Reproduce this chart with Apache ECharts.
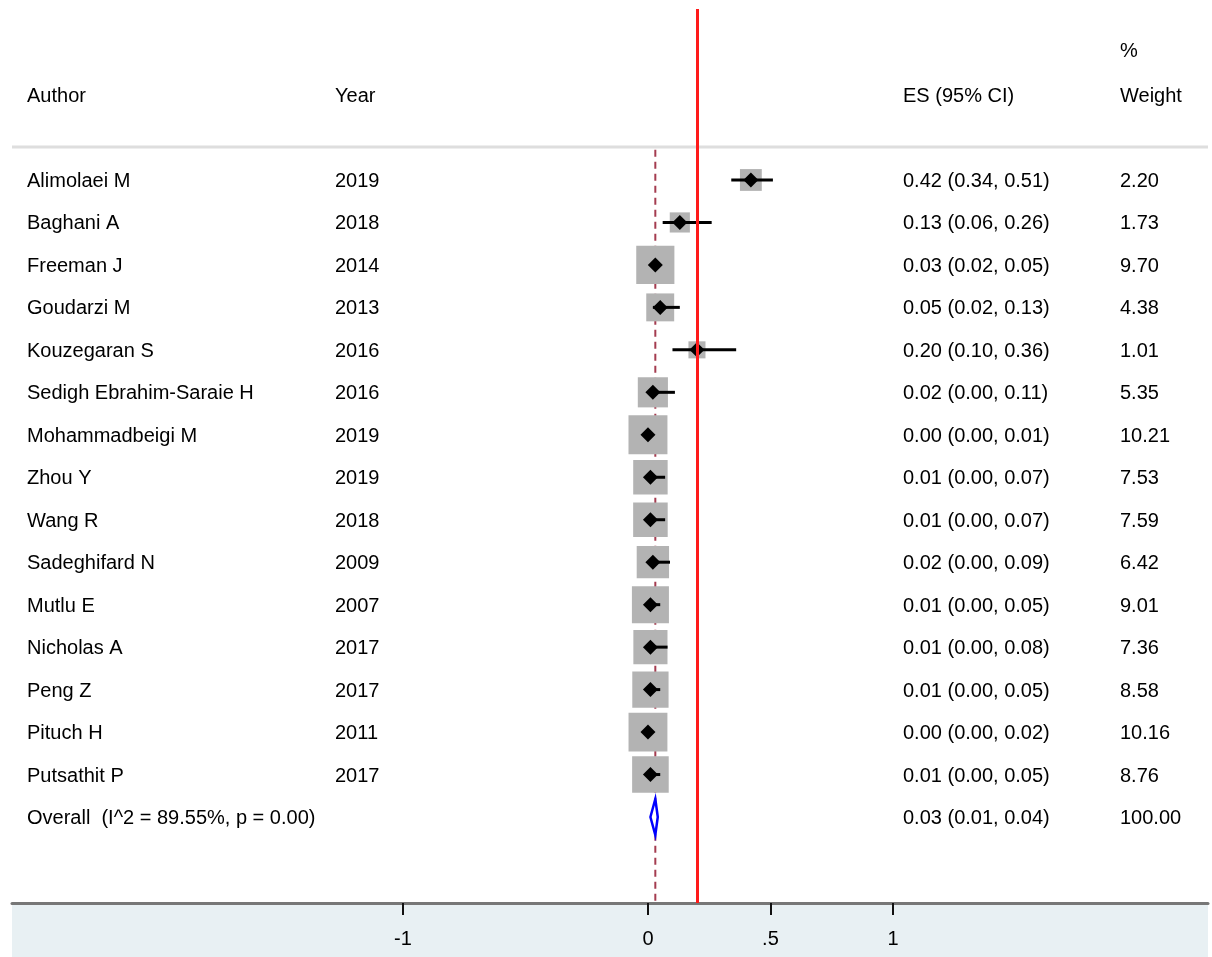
<!DOCTYPE html>
<html>
<head>
<meta charset="utf-8">
<script src="https://cdn.jsdelivr.net/npm/echarts@6/dist/echarts.min.js"></script>
<style>
  html, body { margin: 0; padding: 0; background: #fff; }
  #chart { width: 1212px; height: 957px; }
</style>
</head>
<body>
<div id="chart"></div>
<script>
// Study-level results of the meta-analysis
const authors = [
  'Alimolaei M', 'Baghani A', 'Freeman J', 'Goudarzi M', 'Kouzegaran S',
  'Sedigh Ebrahim-Saraie H', 'Mohammadbeigi M', 'Zhou Y', 'Wang R', 'Sadeghifard N',
  'Mutlu E', 'Nicholas A', 'Peng Z', 'Pituch H', 'Putsathit P'
];
const years = [2019, 2018, 2014, 2013, 2016, 2016, 2019, 2019, 2018, 2009, 2007, 2017, 2017, 2011, 2017];
const esValues = [0.42, 0.13, 0.03, 0.05, 0.20, 0.02, 0.00, 0.01, 0.01, 0.02, 0.01, 0.01, 0.01, 0.00, 0.01];
const ciLower  = [0.34, 0.06, 0.02, 0.02, 0.10, 0.00, 0.00, 0.00, 0.00, 0.00, 0.00, 0.00, 0.00, 0.00, 0.00];
const ciUpper  = [0.51, 0.26, 0.05, 0.13, 0.36, 0.11, 0.01, 0.07, 0.07, 0.09, 0.05, 0.08, 0.05, 0.02, 0.05];
const weights  = [2.20, 1.73, 9.70, 4.38, 1.01, 5.35, 10.21, 7.53, 7.59, 6.42, 9.01, 7.36, 8.58, 10.16, 8.76];

// Pooled estimate
const overallES = 0.03;
const overallLower = 0.01;
const overallUpper = 0.04;
const overallWeight = 100.00;
const overallLabel = 'Overall  (I^2 = 89.55%, p = 0.00)';

// Reference line and axis ticks
const referenceValue = 0.2;
const xTicks = [-1, 0, 0.5, 1];
const xTickLabels = ['-1', '0', '.5', '1'];

// ---- drawing ----
const FONT_FAMILY = '"Liberation Sans", Arial, Helvetica, sans-serif';
const FONT_SIZE = 20;
const FONT = FONT_SIZE + 'px ' + FONT_FAMILY;
const COL_AUTHOR = 27, COL_YEAR = 335, COL_ES = 903, COL_WEIGHT = 1120;
const TEXT_DY = 1.5;
const nStudies = authors.length;
const overallRow = nStudies;
const fmt = v => v.toFixed(2);
const ciText = (e, l, u) => fmt(e) + ' (' + fmt(l) + ', ' + fmt(u) + ')';

const studyData = esValues.map((v, i) => [v, i, ciLower[i], ciUpper[i], weights[i]]);

const tableRows = authors.map((a, i) => ({
  value: [0, i],
  cells: [a, String(years[i]), ciText(esValues[i], ciLower[i], ciUpper[i]), fmt(weights[i])]
}));
tableRows.push({
  value: [0, overallRow],
  cells: [overallLabel, '', ciText(overallES, overallLower, overallUpper), fmt(overallWeight)]
});

function textEl(x, y, t) {
  return {
    type: 'text',
    style: { x: x, y: y, text: t, font: FONT, fill: '#000', align: 'left', verticalAlign: 'middle' }
  };
}

const chart = echarts.init(document.getElementById('chart'), null, { renderer: 'canvas' });

const option = {
  animation: false,
  backgroundColor: '#fff',
  grid: { left: 12, right: 4, top: 9, bottom: 54, containLabel: false },
  xAxis: {
    type: 'value',
    min: -2.596,
    max: 2.286,
    position: 'bottom',
    axisLine: { show: true, onZero: false, lineStyle: { color: '#777', width: 3 } },
    axisTick: { show: true, customValues: xTicks, length: 12, lineStyle: { color: '#111', width: 2 } },
    axisLabel: {
      show: true,
      customValues: xTicks,
      margin: 26,
      color: '#000',
      fontFamily: FONT_FAMILY,
      fontSize: FONT_SIZE,
      formatter: v => xTickLabels[xTicks.indexOf(v)] ?? String(v)
    },
    splitLine: { show: false }
  },
  yAxis: {
    type: 'value',
    inverse: true,
    min: -4.026,
    max: 17.025,
    show: false
  },
  graphic: [
    { type: 'rect', z: -10, shape: { x: 12, y: 903, width: 1196, height: 54 }, style: { fill: '#e8f0f3' } },
    { type: 'line', shape: { x1: 12, y1: 147, x2: 1208, y2: 147 }, style: { stroke: '#dedede', lineWidth: 3 } },
    { type: 'text', style: { x: COL_AUTHOR, y: 96, text: 'Author', font: FONT, fill: '#000', verticalAlign: 'middle' } },
    { type: 'text', style: { x: COL_YEAR, y: 96, text: 'Year', font: FONT, fill: '#000', verticalAlign: 'middle' } },
    { type: 'text', style: { x: COL_ES, y: 96, text: 'ES (95% CI)', font: FONT, fill: '#000', verticalAlign: 'middle' } },
    { type: 'text', style: { x: COL_WEIGHT, y: 51, text: '%', font: FONT, fill: '#000', verticalAlign: 'middle' } },
    { type: 'text', style: { x: COL_WEIGHT, y: 96, text: 'Weight', font: FONT, fill: '#000', verticalAlign: 'middle' } }
  ],
  series: [
    // dashed line at the pooled estimate
    {
      type: 'custom',
      z: 1,
      silent: true,
      data: [[overallES, -0.71, 17.025]],
      renderItem: (params, api) => {
        const p1 = api.coord([api.value(0), api.value(1)]);
        const p2 = api.coord([api.value(0), api.value(2)]);
        return {
          type: 'line',
          shape: { x1: p1[0], y1: p1[1], x2: p2[0], y2: p2[1] },
          style: { stroke: '#a43c50', lineWidth: 2, lineDash: [7, 5] }
        };
      }
    },
    // weight boxes
    {
      type: 'custom',
      z: 2,
      silent: true,
      data: studyData,
      renderItem: (params, api) => {
        const c = api.coord([api.value(0), api.value(1)]);
        const s = 7 + 10 * Math.sqrt(api.value(4));
        return {
          type: 'rect',
          shape: { x: c[0] - s / 2, y: c[1] - s / 2, width: s, height: s },
          style: { fill: '#b3b3b3' }
        };
      }
    },
    // confidence intervals and point estimates
    {
      type: 'custom',
      z: 3,
      silent: true,
      data: studyData,
      renderItem: (params, api) => {
        const row = api.value(1);
        const c = api.coord([api.value(0), row]);
        const l = api.coord([api.value(2), row]);
        const u = api.coord([api.value(3), row]);
        const h = 7.5;
        return {
          type: 'group',
          children: [
            { type: 'line', shape: { x1: l[0], y1: l[1], x2: u[0], y2: u[1] }, style: { stroke: '#000', lineWidth: 3 } },
            { type: 'polygon', shape: { points: [[c[0] - h, c[1]], [c[0], c[1] - h], [c[0] + h, c[1]], [c[0], c[1] + h]] }, style: { fill: '#000' } }
          ]
        };
      }
    },
    // pooled diamond
    {
      type: 'custom',
      z: 4,
      silent: true,
      data: [[overallES, overallRow, overallLower, overallUpper]],
      renderItem: (params, api) => {
        const row = api.value(1);
        const c = api.coord([api.value(0), row]);
        const l = api.coord([api.value(2), row]);
        const u = api.coord([api.value(3), row]);
        const h = 18;
        return {
          type: 'polygon',
          shape: { points: [[l[0], c[1]], [c[0], c[1] - h], [u[0], c[1]], [c[0], c[1] + h]] },
          style: { fill: '#fff', stroke: '#0000ff', lineWidth: 2.5 }
        };
      }
    },
    // reference line
    {
      type: 'line',
      z: 5,
      data: [],
      markLine: {
        silent: true,
        symbol: ['none', 'none'],
        label: { show: false },
        lineStyle: { color: '#ff1a1a', width: 3, type: 'solid' },
        data: [{ xAxis: referenceValue }]
      }
    },
    // table text
    {
      type: 'custom',
      z: 6,
      silent: true,
      clip: false,
      data: tableRows.map(r => r.value),
      renderItem: (params, api) => {
        const y = api.coord([0, api.value(1)])[1] + TEXT_DY;
        const cells = tableRows[params.dataIndex].cells;
        return {
          type: 'group',
          children: [
            textEl(COL_AUTHOR, y, cells[0]),
            textEl(COL_YEAR, y, cells[1]),
            textEl(COL_ES, y, cells[2]),
            textEl(COL_WEIGHT, y, cells[3])
          ]
        };
      }
    }
  ]
};

chart.setOption(option);
</script>
</body>
</html>
